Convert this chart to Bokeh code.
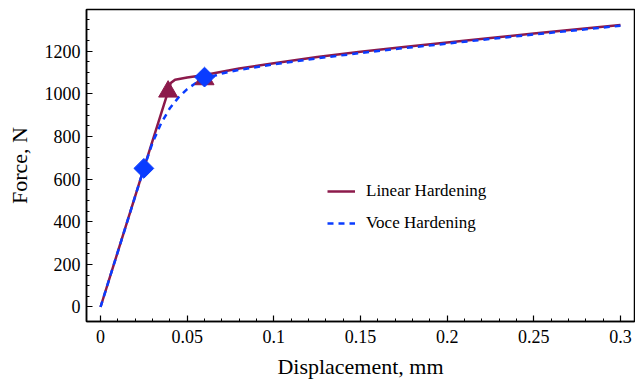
import numpy as np
from bokeh.plotting import figure
from bokeh.models import Range1d, FixedTicker, Legend, LegendItem
from bokeh.embed import file_html
from bokeh.resources import INLINE

# Data
linear_disp = [0, 0.025, 0.0405, 0.043, 0.05, 0.06, 0.08, 0.1, 0.125, 0.15, 0.175, 0.2, 0.225, 0.25, 0.275, 0.3]
linear_force = [0, 650, 1050, 1066, 1076, 1088, 1118, 1143, 1172, 1197, 1219, 1240, 1261, 1282, 1302, 1322]

voce_disp = [0, 0.025, 0.03, 0.035, 0.04, 0.045, 0.05, 0.055, 0.06, 0.07, 0.08, 0.1, 0.125, 0.15, 0.175, 0.2, 0.225, 0.25, 0.275, 0.3]
voce_force = [0, 650, 770, 862, 932, 983, 1022, 1050, 1070, 1095, 1112, 1138, 1166, 1191, 1214, 1235, 1257, 1278, 1298, 1319]

linear_mark_disp = [0.039, 0.06]
linear_mark_force = [1010, 1068]
voce_mark_disp = [0.025, 0.06]
voce_mark_force = [650, 1078]

x_ticks = [0, 0.05, 0.1, 0.15, 0.2, 0.25, 0.3]
x_tick_labels = ["0", "0.05", "0.1", "0.15", "0.2", "0.25", "0.3"]
y_ticks = [0, 200, 400, 600, 800, 1000, 1200]

LIN_COLOR = "#8c1a4b"
VOCE_COLOR = "#0a3cff"
FONT = "Liberation Serif"

p = figure(width=635, height=381, output_backend="svg", toolbar_location=None,
           x_range=Range1d(-0.0081, 0.3081), y_range=Range1d(-68, 1395),
           min_border_left=86, min_border_right=1, min_border_top=9, min_border_bottom=60)

p.background_fill_color = "white"
p.border_fill_color = "white"
p.outline_line_color = "black"
p.outline_line_width = 1.5
p.grid.visible = False

x_minor = [round(i * 0.01, 3) for i in range(0, 31)]
y_minor = list(range(0, 1401, 50))
p.xaxis.ticker = FixedTicker(ticks=x_ticks, minor_ticks=x_minor)
p.yaxis.ticker = FixedTicker(ticks=y_ticks, minor_ticks=y_minor)
p.xaxis.major_label_overrides = {t: l for t, l in zip(x_ticks, x_tick_labels)}

for ax in (p.xaxis, p.yaxis):
    ax.axis_line_color = "black"
    ax.axis_line_width = 1.5
    ax.major_tick_in = 6
    ax.major_tick_out = 0
    ax.minor_tick_in = 3
    ax.minor_tick_out = 0
    ax.major_tick_line_width = 1.2
    ax.minor_tick_line_width = 1
    ax.major_label_text_font = FONT
    ax.major_label_text_font_size = "18px"
    ax.major_label_text_color = "black"
    ax.axis_label_text_font = FONT
    ax.axis_label_text_font_size = "22px"
    ax.axis_label_text_font_style = "normal"
    ax.axis_label_text_color = "black"

p.xaxis.axis_label = "Displacement, mm"
p.yaxis.axis_label = "Force, N"
p.xaxis.major_label_standoff = 8
p.yaxis.major_label_standoff = 6
p.xaxis.axis_label_standoff = 8
p.yaxis.axis_label_standoff = 10

lin = p.line(linear_disp, linear_force, line_color=LIN_COLOR, line_width=2.5)
voce = p.line(voce_disp, voce_force, line_color=VOCE_COLOR, line_width=2.5, line_dash="6 5")

p.scatter(linear_mark_disp, linear_mark_force, marker="triangle", size=19,
          fill_color=LIN_COLOR, line_color=LIN_COLOR)
p.scatter(voce_mark_disp, voce_mark_force, marker="square", angle=np.pi / 4, size=14,
          fill_color=VOCE_COLOR, line_color=VOCE_COLOR)

legend = Legend(items=[LegendItem(label="Linear Hardening", renderers=[lin]),
                       LegendItem(label="Voce Hardening", renderers=[voce])],
                location=(241, 88))
legend.border_line_color = None
legend.background_fill_alpha = 0
legend.padding = 0
legend.margin = 0
legend.spacing = 12
legend.glyph_width = 28
legend.glyph_height = 20
legend.label_height = 20
legend.label_standoff = 11
legend.label_text_font = FONT
legend.label_text_font_size = "17px"
legend.label_text_color = "black"
p.add_layout(legend, "center")

open("out.html", "w").write(file_html(p, INLINE))
